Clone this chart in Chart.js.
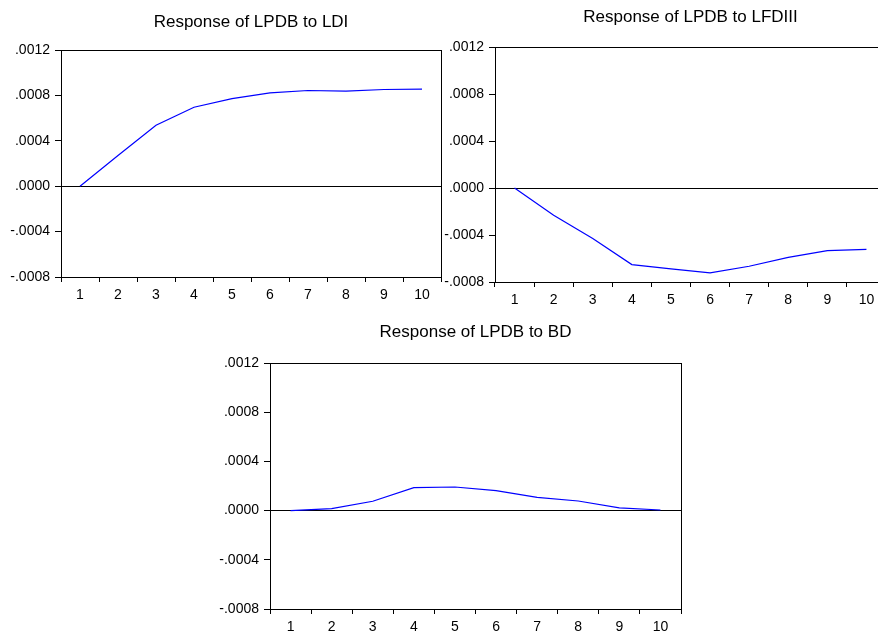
<!DOCTYPE html>
<html><head><meta charset="utf-8">
<script src="https://cdn.jsdelivr.net/npm/chart.js@4/dist/chart.umd.min.js"></script>
<style>
html,body{margin:0;padding:0;background:#fff;width:878px;height:631px;overflow:hidden;position:relative}
canvas{position:absolute;display:block}
</style></head><body>
<canvas id="c1" width="460" height="305" style="left:0px;top:0px;width:460px;height:305px"></canvas>
<canvas id="c2" width="460" height="310" style="left:438px;top:0px;width:460px;height:310px"></canvas>
<canvas id="c3" width="500" height="340" style="left:200px;top:300px;width:500px;height:340px"></canvas>
<script>
// ---- data ----
const periods = ['1','2','3','4','5','6','7','8','9','10'];
const respLDI   = [0.0000, 0.00027, 0.000537, 0.000696, 0.000772, 0.000822, 0.000843, 0.000837, 0.000852, 0.000855];
const respLFDIII = [0.0000, -0.000232, -0.00043, -0.000652, -0.000689, -0.000723, -0.000666, -0.00059, -0.000533, -0.000522];
const respBD    = [0.0000, 0.000016, 0.000076, 0.000186, 0.000192, 0.000162, 0.000108, 0.000078, 0.000022, 0.000005];
const yTickValues = [-0.0008, -0.0004, 0.0000, 0.0004, 0.0008, 0.0012];
const titles = ['Response of LPDB to LDI', 'Response of LPDB to LFDIII', 'Response of LPDB to BD'];

const FONT = "'Liberation Sans', Arial, sans-serif";

function fmt(v){
  if (Math.abs(v) < 1e-12) v = 0;
  return v.toFixed(4).replace('0.', '.');
}

const framePlugin = {
  id: 'frame',
  afterDatasetsDraw(chart){
    const {ctx, chartArea: a} = chart;
    ctx.save();
    ctx.strokeStyle = '#000';
    ctx.lineWidth = 1;
    ctx.strokeRect(Math.round(a.left) + 0.5, Math.round(a.top) + 0.5,
                   Math.round(a.right) - Math.round(a.left), Math.round(a.bottom) - Math.round(a.top));
    ctx.restore();
  }
};

function makeChart(id, title, values, g){
  return new Chart(document.getElementById(id), {
    type: 'line',
    data: {
      labels: periods,
      datasets: [{ data: values, borderColor: '#0000ff', borderWidth: 1.2, pointRadius: 0, tension: 0, fill: false }]
    },
    options: {
      responsive: false, animation: false, devicePixelRatio: 1,
      layout: { padding: { left: 0, top: 0, right: g.padRight, bottom: 0 } },
      plugins: {
        legend: { display: false },
        tooltip: { enabled: false },
        title: {
          display: true, text: title, fullSize: false, color: '#000',
          font: { family: FONT, size: 17, weight: 'normal', lineHeight: 1.2 },
          padding: { top: g.tTop, bottom: g.tBottom }
        }
      },
      scales: {
        x: {
          type: 'category', offset: true,
          grid: { offset: true, drawOnChartArea: false, drawTicks: true, tickLength: 5, color: '#000', lineWidth: 1 },
          border: { display: false },
          ticks: { color: '#000', font: { family: FONT, size: 14 }, padding: 5, maxRotation: 0, autoSkip: false },
          afterFit(s){ s.height = g.xH; }
        },
        y: {
          min: yTickValues[0], max: yTickValues[yTickValues.length - 1],
          afterBuildTicks(s){ s.ticks = yTickValues.map(v => ({ value: v })); },
          ticks: { color: '#000', font: { family: FONT, size: 14 }, padding: 5, callback: fmt },
          grid: {
            drawOnChartArea: true, drawTicks: true, tickLength: 6, tickColor: '#000', lineWidth: 1,
            color: c => (c.tick && Math.abs(c.tick.value) < 1e-12) ? '#000' : 'rgba(0,0,0,0)'
          },
          border: { display: false },
          afterFit(s){ s.width = g.yW; }
        }
      }
    },
    plugins: [framePlugin]
  });
}

makeChart('c1', titles[0], respLDI,    { yW: 61, padRight: 19, xH: 28, tTop: 12.3, tBottom: 17.3 });
makeChart('c2', titles[1], respLFDIII, { yW: 57, padRight: 12, xH: 28, tTop: 6.8,  tBottom: 19.8 });
makeChart('c3', titles[2], respBD,     { yW: 70, padRight: 19, xH: 31, tTop: 21.8, tBottom: 20.8 });
</script>
</body></html>
